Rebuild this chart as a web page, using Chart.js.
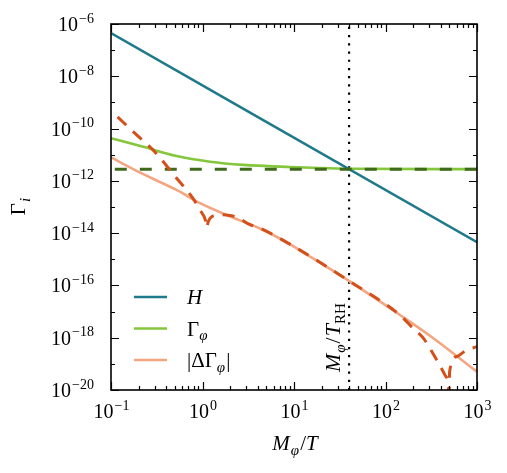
<!DOCTYPE html>
<html>
<head>
<meta charset="utf-8">
<script src="https://cdn.jsdelivr.net/npm/chart.js@4.4.1/dist/chart.umd.min.js"></script>
<style>
  html, body { margin: 0; padding: 0; background: #fff; }
  #wrap { width: 507px; height: 473px; }
</style>
</head>
<body>
<div id="wrap"><canvas id="rates"></canvas></div>
<script>
// values (log-log)
const hubbleX = [0.1, 1000];
const hubbleY = [4.5e-7, 4.5e-15];

const gammaX = [0.1, 0.225, 0.52, 1.21, 2.8, 9, 20, 40, 1000];
const gammaY = [4.3e-11, 2.0e-11, 8.9e-12, 5.4e-12, 4.1e-12, 3.4e-12, 3.1e-12, 2.9e-12, 2.8e-12];

const gammaFlatX = [0.11, 1000];
const gammaFlatY = [2.8e-12, 2.8e-12];

const deltaX = [0.1, 0.225, 0.52, 0.94, 1.84, 4.25, 9, 11.6, 41, 144, 333, 1000];
const deltaY = [7.9e-12, 1.8e-12, 4.5e-13, 1.4e-13, 4.9e-14, 1.5e-14, 3.8e-15, 2.2e-15, 1.4e-16, 7.4e-18, 9.6e-19, 5e-20];

const deltaNumX = [0.118, 0.2, 0.3, 0.5, 0.79, 0.94, 1.08, 1.115, 1.15, 1.31, 1.6, 1.84, 2.37, 3.3, 4.25, 9, 41,
                   144, 200, 259, 363, 447, 486, 494, 502, 600, 771, 1000];
const deltaNumY = [2.8e-10, 4.9e-11, 1.3e-11, 1.5e-12, 2.1e-13, 7.6e-14, 3.0e-14, 1.6e-14, 2.6e-14, 4.6e-14, 5.0e-14, 4.9e-14, 4.1e-14, 2.1e-14, 1.55e-14, 3.8e-15, 1.4e-16,
                   7.3e-18, 2.3e-18, 9.6e-19, 1.4e-19, 3.7e-20, 1.3e-20, 3e-21, 5e-20, 1.9e-19, 3.4e-19, 4.5e-19];

const reheatX = 40;

const xTickExps = [-1, 0, 1, 2, 3];
const yTickExps = [-6, -8, -10, -12, -14, -16, -18, -20];

const SERIF = '"Liberation Serif", "DejaVu Serif", serif';

function pts(xs, ys) {
    return xs.map((x, i) => ({ x: x, y: ys[i] }));
}

function partFont(p, size) {
    const s = (p.sub || p.sup) ? Math.round(size * 0.7) : size;
    return (p.i ? 'italic ' : '') + s + 'px ' + SERIF;
}

// draw a short run of math-ish text (italic / sub / sup pieces)
function mathText(ctx, parts, x, y, size, align) {
    let w = 0;
    parts.forEach(p => { ctx.font = partFont(p, size); w += ctx.measureText(p.t).width; });
    let cx = x;
    if (align === 'center') cx = x - w / 2;
    if (align === 'right') cx = x - w;
    ctx.textAlign = 'left';
    ctx.textBaseline = 'alphabetic';
    parts.forEach(p => {
        ctx.font = partFont(p, size);
        let dy = 0;
        if (p.sub) dy = size * 0.22;
        if (p.sup) dy = -size * 0.42;
        ctx.fillText(p.t, cx, y + dy);
        cx += ctx.measureText(p.t).width + (p.gap || 0);
    });
}

function powParts(e) {
    return [{ t: '10', gap: 1 }, { t: (e < 0 ? '\u2212' : '') + Math.abs(e), sup: true }];
}

const legendItems = [
    { color: '#1f7a8c', parts: [{ t: 'H', i: true }] },
    { color: '#84c63c', parts: [{ t: '\u0393' }, { t: '\u03c6', i: true, sub: true }] },
    { color: '#f4a582', parts: [{ t: '|\u0394\u0393' }, { t: '\u03c6', i: true, sub: true, gap: 1 }, { t: '|' }] }
];

const decorPlugin = {
    id: 'decor',
    afterDraw(chart) {
        const ctx = chart.ctx;
        const xs = chart.scales.x;
        const ys = chart.scales.y;
        const a = chart.chartArea;
        ctx.save();
        ctx.strokeStyle = '#000';
        ctx.fillStyle = '#000';

        // ticks, pointing inwards on all four sides
        ctx.lineWidth = 1.2;
        ctx.beginPath();
        for (let d = -1; d <= 3; d++) {
            for (let k = 1; k <= 9; k++) {
                const v = k * Math.pow(10, d);
                if (v > 1000) break;
                const px = Math.round(xs.getPixelForValue(v)) + 0.5;
                const len = k === 1 ? 8 : 4;
                ctx.moveTo(px, a.bottom); ctx.lineTo(px, a.bottom - len);
                ctx.moveTo(px, a.top); ctx.lineTo(px, a.top + len);
            }
        }
        for (let e = -20; e <= -6; e++) {
            const py = Math.round(ys.getPixelForValue(Math.pow(10, e))) + 0.5;
            const len = e % 2 === 0 ? 8 : 4;
            ctx.moveTo(a.left, py); ctx.lineTo(a.left + len, py);
            ctx.moveTo(a.right, py); ctx.lineTo(a.right - len, py);
        }
        ctx.stroke();

        // frame
        ctx.lineWidth = 1.6;
        ctx.strokeRect(a.left, a.top, a.right - a.left, a.bottom - a.top);

        // tick labels
        xTickExps.forEach(e => {
            mathText(ctx, powParts(e), xs.getPixelForValue(Math.pow(10, e)), 418, 20, 'center');
        });
        yTickExps.forEach(e => {
            mathText(ctx, powParts(e), 93, ys.getPixelForValue(Math.pow(10, e)) + 7, 20, 'right');
        });

        // axis titles
        mathText(ctx, [{ t: 'M', i: true, gap: 1 }, { t: '\u03c6', i: true, sub: true, gap: 1 }, { t: '/' }, { t: 'T', i: true }],
            (a.left + a.right) / 2, 450, 21, 'center');
        ctx.save();
        ctx.translate(25, 207);
        ctx.rotate(-Math.PI / 2);
        mathText(ctx, [{ t: '\u0393', gap: 1 }, { t: 'i', i: true, sub: true }], 0, 0, 21, 'center');
        ctx.restore();

        // label next to the reheating line
        ctx.save();
        ctx.translate(xs.getPixelForValue(reheatX) - 9, 372);
        ctx.rotate(-Math.PI / 2);
        mathText(ctx, [{ t: 'M', i: true, gap: 1 }, { t: '\u03c6', i: true, sub: true, gap: 1 }, { t: '/', gap: 1 }, { t: 'T', i: true }, { t: 'RH', sub: true }],
            0, 0, 22, 'left');
        ctx.restore();

        // legend
        legendItems.forEach((it, n) => {
            const ly = 297 + n * 31.5;
            ctx.strokeStyle = it.color;
            ctx.lineWidth = 2.6;
            ctx.beginPath();
            ctx.moveTo(134, ly); ctx.lineTo(167, ly);
            ctx.stroke();
            ctx.fillStyle = '#000';
            mathText(ctx, it.parts, 187, ly + 7, 21, 'left');
        });
        ctx.restore();
    }
};

const line = (label, xs, ys, color, width, dash, order) => ({
    label: label,
    data: pts(xs, ys),
    borderColor: color,
    backgroundColor: color,
    borderWidth: width,
    borderDash: dash,
    pointRadius: 0,
    fill: false,
    cubicInterpolationMode: 'monotone',
    clip: 0,
    order: order
});

new Chart(document.getElementById('rates'), {
    type: 'line',
    data: {
        datasets: [
            line('H', hubbleX, hubbleY, '#1f7a8c', 2.6, [], 2),
            line('Gamma', gammaX, gammaY, '#84c63c', 2.6, [], 3),
            line('Gamma flat', gammaFlatX, gammaFlatY, '#3f6a1c', 3, [12, 13], 1),
            line('Delta', deltaX, deltaY, '#f4a582', 2.6, [], 4),
            line('Delta numeric', deltaNumX, deltaNumY, '#d4501a', 3, [12, 9], 0),
            line('reheating', [reheatX, reheatX], [1e-20, 1e-6], '#000', 2.2, [2.2, 6], 5)
        ]
    },
    options: {
        responsive: true,
        maintainAspectRatio: false,
        animation: false,
        layout: { padding: { left: 111, right: 30, top: 24, bottom: 83 } },
        plugins: { legend: { display: false }, tooltip: { enabled: false } },
        scales: {
            x: { type: 'logarithmic', min: 0.1, max: 1000, display: false },
            y: { type: 'logarithmic', min: 1e-20, max: 1e-6, display: false }
        }
    },
    plugins: [decorPlugin]
});
</script>
</body>
</html>
